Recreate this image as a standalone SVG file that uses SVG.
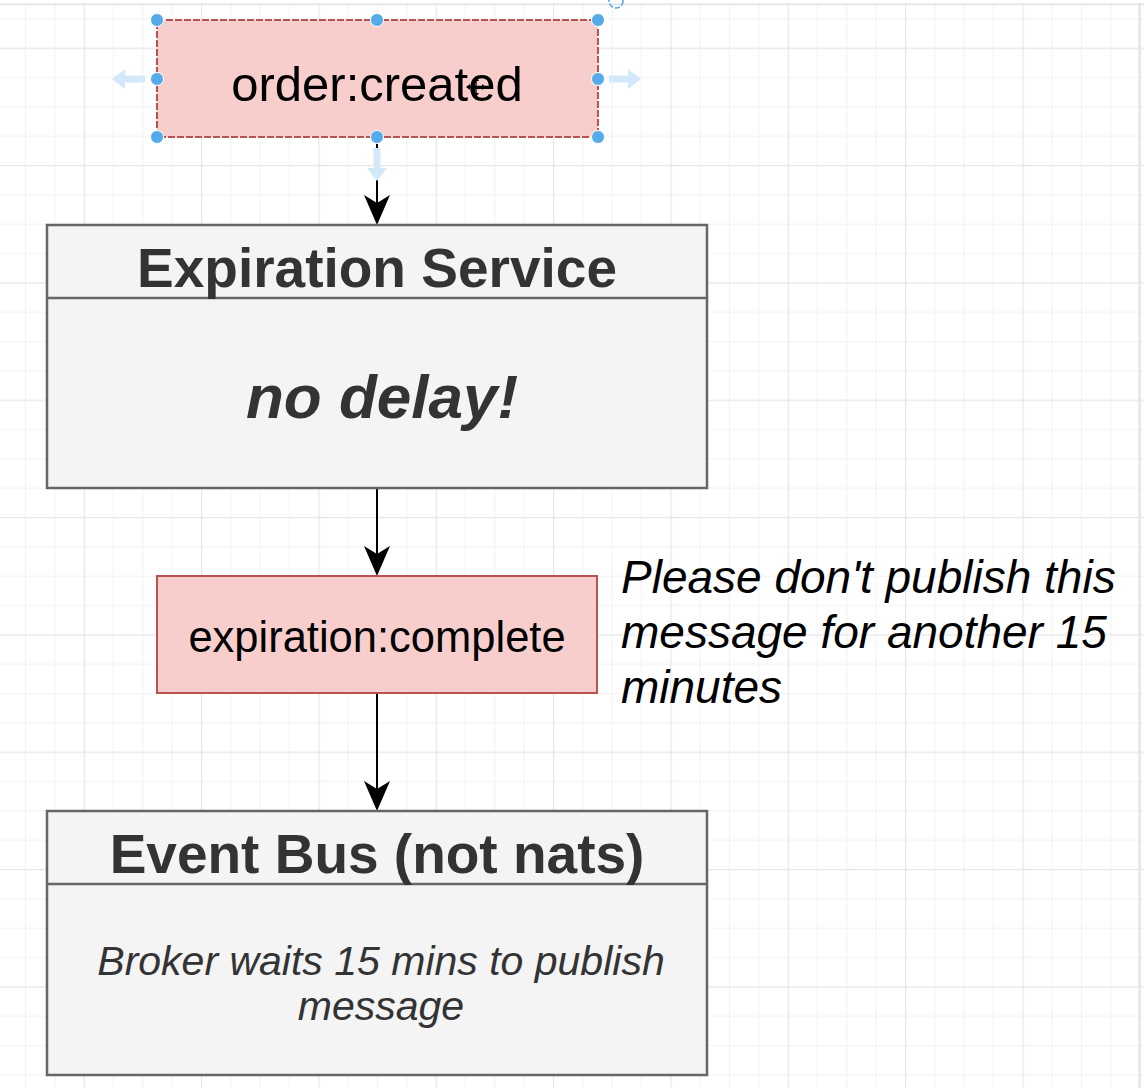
<svg xmlns="http://www.w3.org/2000/svg" width="1144" height="1088" viewBox="0 0 1144 1088">
  <defs>
    <pattern id="grid" patternUnits="userSpaceOnUse" x="83.67" y="165" width="117.33" height="117.33">
      <rect x="0" y="0" width="117.33" height="117.33" fill="#ffffff"/>
      <g fill="#f2f2f2">
        <rect x="29.33" y="0" width="1" height="117.33"/>
        <rect x="58.67" y="0" width="1" height="117.33"/>
        <rect x="88" y="0" width="1" height="117.33"/>
        <rect x="0" y="29.33" width="117.33" height="1"/>
        <rect x="0" y="58.67" width="117.33" height="1"/>
        <rect x="0" y="88" width="117.33" height="1"/>
      </g>
      <g fill="#e6e6e6">
        <rect x="0" y="0" width="1.2" height="117.33"/>
        <rect x="0" y="0" width="117.33" height="1.2"/>
      </g>
    </pattern>
    <marker id="arrow" viewBox="0 0 30 26" refX="8" refY="13" markerWidth="30" markerHeight="26" markerUnits="userSpaceOnUse" orient="auto">
      <path d="M0,0 L30,13 L0,26 L8,13 Z" fill="#000000"/>
    </marker>
    <style>
      .box-pink { fill: #f8cecc; stroke: #b85450; stroke-width: 2; }
      .box-gray { fill: #f4f4f4; stroke: #666666; stroke-width: 2.5; }
      .edge { stroke: #000000; stroke-width: 2; fill: none; }
      .handle { fill: #55aaea; stroke: #ffffff; stroke-width: 1; }
      .hint { fill: #d3e9fa; }
      .t { font-family: "Liberation Sans", Arial, Helvetica, sans-serif; }
      .title { font-size: 55px; font-weight: bold; fill: #333333; text-anchor: middle; }
      .label { fill: #000000; text-anchor: middle; }
      .note { font-size: 46px; font-style: italic; fill: #000000; }
      .body { font-size: 41px; font-style: italic; fill: #333333; text-anchor: middle; }
    </style>
  </defs>

  <!-- background grid -->
  <rect x="0" y="0" width="1144" height="1088" fill="url(#grid)"/>
  <rect x="0" y="0" width="1144" height="3" fill="#ffffff"/>
  <rect x="0" y="3.5" width="1144" height="1.5" fill="#e2e2e2"/>
  <rect x="1138.5" y="4" width="1.5" height="1084" fill="#e2e2e2"/>

  <!-- connectors -->
  <g id="connectors">
    <line class="edge" x1="377" y1="137" x2="377" y2="203" marker-end="url(#arrow)"/>
    <line class="edge" x1="377" y1="489" x2="377" y2="554" marker-end="url(#arrow)"/>
    <line class="edge" x1="377" y1="693" x2="377" y2="789" marker-end="url(#arrow)"/>
  </g>

  <!-- node: order:created (selected) -->
  <g id="node-order-created">
    <rect class="box-pink" x="157" y="20" width="441" height="117" stroke-dasharray="7 2"/>
    <text class="t label" x="377" y="101" font-size="49">order:created</text>
    <!-- selection decorations -->
    <path class="hint" d="M112,79 L125,69 L125,75.5 L145,75.5 L145,82.5 L125,82.5 L125,89 Z"/>
    <path class="hint" d="M641,79 L628,69 L628,75.5 L609,75.5 L609,82.5 L628,82.5 L628,89 Z"/>
    <path class="hint" d="M377,181 L367,168 L373.5,168 L373.5,148 L380.5,148 L380.5,168 L387,168 Z"/>
    <circle cx="616" cy="1" r="7" fill="none" stroke="#55aaea" stroke-width="1.6" stroke-dasharray="5 2"/>
    <circle class="handle" cx="157" cy="20" r="6.5"/>
    <circle class="handle" cx="377" cy="20" r="6.5"/>
    <circle class="handle" cx="598" cy="20" r="6.5"/>
    <circle class="handle" cx="157" cy="79" r="6.5"/>
    <circle class="handle" cx="598" cy="79" r="6.5"/>
    <circle class="handle" cx="157" cy="137" r="6.5"/>
    <circle class="handle" cx="377" cy="137" r="6.5"/>
    <circle class="handle" cx="598" cy="137" r="6.5"/>
    <!-- move cursor -->
    <g stroke="#000000" stroke-width="1.4" fill="none">
      <line x1="468" y1="87" x2="484" y2="87"/>
      <line x1="476" y1="79" x2="476" y2="95"/>
    </g>
    <g fill="#000000">
      <path d="M466,87 L470,84 L470,90 Z"/>
      <path d="M486,87 L482,84 L482,90 Z"/>
      <path d="M476,77 L473,81 L479,81 Z"/>
      <path d="M476,97 L473,93 L479,93 Z"/>
    </g>
  </g>

  <!-- node: Expiration Service -->
  <g id="node-expiration-service">
    <rect class="box-gray" x="47" y="225" width="660" height="263"/>
    <line x1="47" y1="298" x2="707" y2="298" stroke="#666666" stroke-width="2.5"/>
    <text class="t title" x="377" y="287">Expiration Service</text>
    <text class="t" x="382" y="418" font-size="62" font-weight="bold" font-style="italic" fill="#333333" text-anchor="middle">no delay!</text>
  </g>

  <!-- node: expiration:complete -->
  <g id="node-expiration-complete">
    <rect class="box-pink" x="157" y="576" width="440" height="117"/>
    <text class="t label" x="377" y="652" font-size="43.5">expiration:complete</text>
  </g>

  <!-- note text -->
  <g id="note-delay">
    <text class="t note" x="621" y="593">Please don't publish this</text>
    <text class="t note" x="621" y="648">message for another 15</text>
    <text class="t note" x="621" y="703">minutes</text>
  </g>

  <!-- node: Event Bus -->
  <g id="node-event-bus">
    <rect class="box-gray" x="47" y="811" width="660" height="264"/>
    <line x1="47" y1="884" x2="707" y2="884" stroke="#666666" stroke-width="2.5"/>
    <text class="t title" x="377" y="873">Event Bus (not nats)</text>
    <text class="t body" x="381" y="975">Broker waits 15 mins to publish</text>
    <text class="t body" x="381" y="1020">message</text>
  </g>
</svg>
